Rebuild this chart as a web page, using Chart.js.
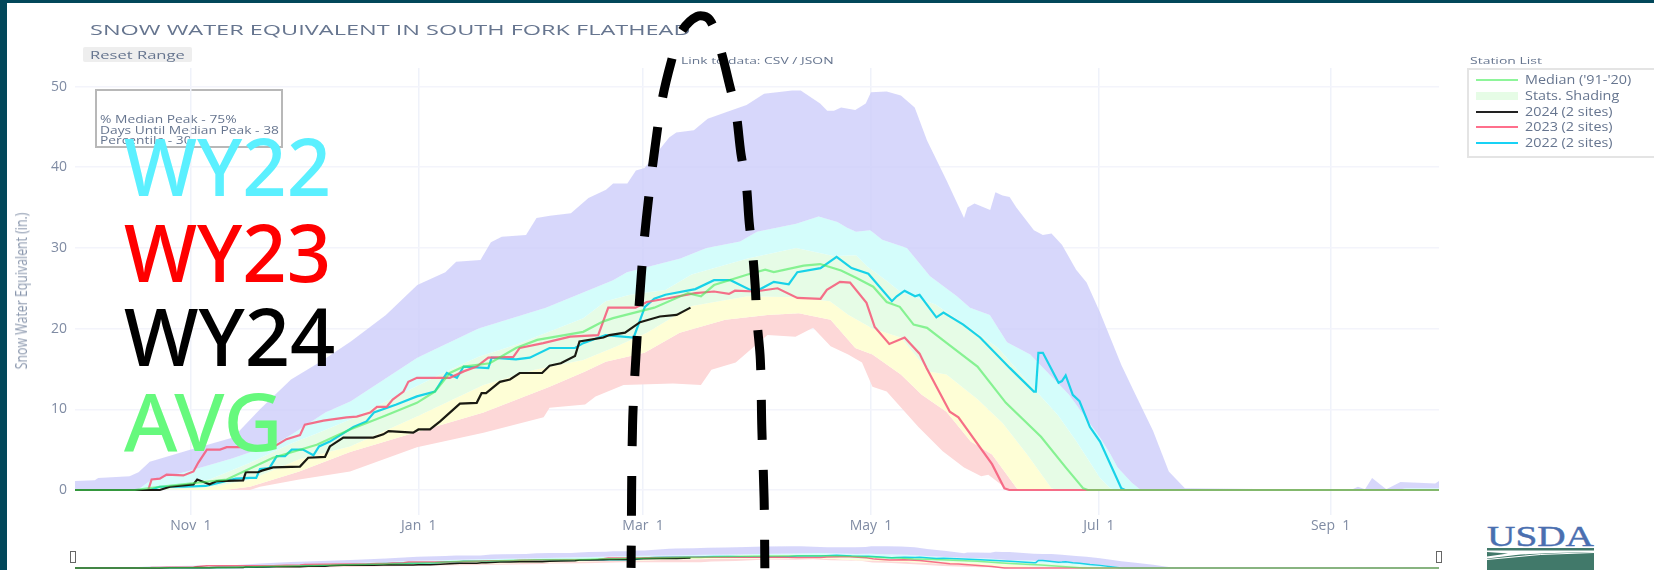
<!DOCTYPE html>
<html>
<head>
<meta charset="utf-8">
<title>Snow Water Equivalent</title>
<script src="https://cdn.jsdelivr.net/npm/chart.js@4"></script>
<style>
  html, body { margin: 0; padding: 0; background: #fff; }
  #page { position: relative; width: 1654px; height: 570px; overflow: hidden; font-family: "Open Sans", sans-serif; color: #66758f; }
  #page div { position: absolute; white-space: nowrap; }
  canvas { position: absolute; left: 0; }
  #mainChart { top: 0; z-index: 2; }
  #sliderChart { top: 540px; z-index: 1; }
  .frameTop { left: 0; top: 0; width: 1654px; height: 3px; background: #02475a; z-index: 5; }
  .frameLeft { left: 0; top: 0; width: 7px; height: 570px; background: #02475a; z-index: 5; }
  .small { transform-origin: left center; filter: blur(0.3px); }
  .big { left: 124px; font-family: "Noto Sans", sans-serif; font-weight: 500; font-size: 80px; line-height: 80px; z-index: 4; transform-origin: left center; transform: scaleX(0.97); }
  .swatch { left: 1476px; width: 42px; }
  .legendText { left: 1525px; font-size: 12.5px; line-height: 14px; transform-origin: left center; transform: scaleX(1.15); filter: blur(0.3px); }
  .handle { top: 551px; width: 4px; height: 10px; background: #fff; border: 1.5px solid #666; z-index: 3; }
</style>
</head>
<body>
<div id="page">
  <div class="frameTop"></div>
  <div class="frameLeft"></div>

  <div class="small" style="left:90px;top:20px;font-size:14.5px;line-height:20px;transform:scaleX(1.62)">SNOW WATER EQUIVALENT IN SOUTH FORK FLATHEAD</div>
  <div style="left:83px;top:47px;width:109px;height:15px;background:#eeeeee;border-radius:2px"></div>
  <div class="small" style="left:90px;top:47px;font-size:11.5px;line-height:15px;transform:scaleX(1.44)">Reset Range</div>
  <div class="small" style="left:681px;top:54px;font-size:9.5px;line-height:14px;transform:scaleX(1.46)">Link to data: CSV / JSON</div>

  <div style="left:95px;top:89px;width:184px;height:55px;border:2px solid #b8b8b8"></div>
  <div class="small" style="left:100px;top:112px;font-size:10px;line-height:14px;transform:scaleX(1.38)">% Median Peak - 75%</div>
  <div class="small" style="left:100px;top:122.5px;font-size:10px;line-height:14px;transform:scaleX(1.38)">Days Until Median Peak - 38</div>
  <div class="small" style="left:100px;top:133px;font-size:10px;line-height:14px;transform:scaleX(1.38)">Percentile - 30</div>

  <div class="small" style="left:21px;top:291px;font-size:16px;line-height:16px;color:#8a97ad;transform-origin:center center;transform:translate(-50%,-50%) rotate(-90deg) scaleX(0.77)">Snow Water Equivalent (in.)</div>

  <div class="small" style="left:1470px;top:54px;font-size:9.5px;line-height:14px;transform:scaleX(1.47)">Station List</div>
  <div style="left:1467px;top:68px;width:190px;height:86px;border:2px solid #e4e4e4"></div>
  <div class="swatch" style="top:79px;height:2px;background:#8ef59a"></div>
  <div class="swatch" style="top:92px;height:8px;background:#e6fce6"></div>
  <div class="swatch" style="top:110.5px;height:2px;background:#222222"></div>
  <div class="swatch" style="top:126px;height:2px;background:#ff6f8c"></div>
  <div class="swatch" style="top:141.5px;height:2px;background:#18d2f5"></div>
  <div class="legendText" style="top:73px">Median ('91-'20)</div>
  <div class="legendText" style="top:89px">Stats. Shading</div>
  <div class="legendText" style="top:104.5px">2024 (2 sites)</div>
  <div class="legendText" style="top:120px">2023 (2 sites)</div>
  <div class="legendText" style="top:135.5px">2022 (2 sites)</div>

  <div class="big" style="top:125px;color:#5bf0ff">WY22</div>
  <div class="big" style="top:211px;color:#ff0000">WY23</div>
  <div class="big" style="top:295px;color:#000000;transform:scaleX(0.99)">WY24</div>
  <div class="big" style="top:380px;color:#66f97d;transform:scaleX(1.02)">AVG</div>

  <div class="handle" style="left:70px"></div>
  <div class="handle" style="left:1436px"></div>

  <svg style="position:absolute;left:1480px;top:522px;z-index:1" width="125" height="48">
    <text x="7" y="24" font-family="Liberation Serif" font-size="29" fill="#4a6fb0" stroke="#4a6fb0" stroke-width="0.4" textLength="107" lengthAdjust="spacingAndGlyphs">USDA</text>
    <rect x="7" y="26" width="107" height="22" fill="#41796a"></rect>
    <path d="M7 28.5 L114 28.5 L114 30 Q60 31 36 33 L7 36.5 L7 34.5 L28 31.5 L7 30 Z" fill="#fff"></path>
    <path d="M7 37.5 Q60 31 114 30.5" fill="none" stroke="#fff" stroke-width="1"></path>
  </svg>

  <canvas id="sliderChart" width="1654" height="30"></canvas>
  <canvas id="mainChart" width="1654" height="570"></canvas>
</div>

<script>
// x axis is days since Oct 1 (water year), y axis is inches of SWE
var xTickDays = [31, 92, 152, 213, 274, 336];
var xTickLabels = ["Nov  1", "Jan  1", "Mar  1", "May  1", "Jul  1", "Sep  1"];
var yTickValues = [0, 10, 20, 30, 40, 50];

// Stats shading, from top edge to bottom edge
var maxDays = [0, 5.3, 6.2, 14.6, 17, 20, 30.8, 42.3, 49.5, 57.8, 66, 73.8, 83.2, 91.6, 99.1, 102, 108.5, 111.3, 114.2, 120.7, 123.5, 127.1, 132.7, 137.4, 142.1, 144, 147.8, 150.1, 152.4, 159, 160.9, 165.6, 169.3, 174, 179.7, 184.4, 191.9, 194.2, 199.4, 201.3, 203.1, 205, 208.8, 211.6, 213, 217.2, 221, 224.7, 228, 233.2, 237.9, 238.8, 240.7, 244.9, 246.3, 248.2, 250.1, 251.9, 256.6, 259, 261.3, 264.1, 267.9, 270.7, 274.3, 280, 283.8, 288.5, 292.7, 297, 341.4, 343.3, 345.2, 347.1, 350.9, 354.7, 364, 365];
var maxVals = [1.1, 1.2, 1.5, 1.7, 2.2, 3.5, 5, 6.5, 10, 13.7, 16, 18.4, 21.7, 25.4, 27, 28.3, 28.5, 30.7, 31.4, 31.6, 33.7, 34, 34.3, 36.2, 37.2, 38, 38, 39.6, 39.9, 43.7, 44.3, 44.6, 46, 46.8, 47.7, 49.1, 49.5, 49.5, 47.9, 47, 47, 47.4, 47.1, 47.9, 49.3, 49.4, 48.9, 47.4, 43.3, 38.4, 33.7, 35, 35.5, 34.7, 36.9, 36.5, 36.3, 35, 32.2, 31.6, 31.8, 30.4, 27.3, 25.7, 22, 15.5, 11.8, 7.3, 2.3, 0.2, 0, 0.4, 0.1, 1.5, 0.1, 1, 0.8, 1.1];

var p90Days = [0, 17, 20, 30, 42, 54, 58.4, 67, 73.8, 91.6, 108, 126, 144, 147.7, 162, 169, 178, 182.5, 193, 199, 204, 206.6, 209, 212.8, 216, 222.6, 228.8, 236, 239.5, 244.8, 249.4, 255.6, 266, 274.3, 277, 279, 282.8, 285.2, 354, 356, 365];
var p90Vals = [0, 0.1, 1.1, 2.3, 3.9, 5.8, 7, 9.6, 11, 16.4, 20, 22.6, 26, 27, 28.7, 30, 30.8, 32, 33, 33.9, 33.2, 32.5, 32, 32.2, 31, 30, 26.5, 24, 22.6, 21.7, 18.3, 16.8, 11.8, 6.5, 4.5, 2.8, 0.9, 0, 0, 0.2, 0.2];

var p70Days = [0, 16, 25, 36, 47, 58, 64.7, 74.4, 82.5, 100.3, 108, 118, 136, 142, 148.5, 158, 165, 180, 193, 203, 209, 212, 217, 221, 230.3, 239.7, 247, 255.7, 263, 268, 274.3, 277, 279, 365];
var p70Vals = [0, 0, 0.5, 1.3, 3.4, 5.8, 7, 8.9, 10.8, 14.9, 16.5, 18, 21.3, 23.4, 24.2, 24.8, 26.7, 28.7, 30, 29, 29.1, 27.7, 26, 24.5, 23, 20, 17.6, 13, 9.3, 6, 1.5, 0.2, 0, 0];

var p30Days = [0, 25, 38, 47, 60, 73.6, 91.5, 109.3, 123, 136, 145, 153, 165, 180, 192.8, 202, 207, 213.4, 221, 228.5, 233.2, 241.6, 248.2, 254.8, 261.3, 263, 365];
var p30Vals = [0, 0, 0.5, 1.3, 3.8, 5.4, 9.1, 13, 14.9, 16.1, 17.8, 19.5, 22.8, 24, 23.9, 23.4, 21.7, 20, 18.9, 14.7, 14.3, 11.2, 8.3, 4.4, 0.2, 0, 0];

var p10Days = [0, 40, 46.8, 60, 73.6, 91.5, 109.3, 127, 136.5, 142, 152.4, 161.8, 174, 185.3, 193.7, 202.2, 208.8, 213.4, 221, 226.6, 233.2, 239.7, 245.4, 252, 253, 365];
var p10Vals = [0, 0, 0.4, 2.3, 4.7, 7.2, 9.6, 12.8, 14.7, 15.9, 17, 19.5, 21.1, 21.7, 21.9, 21.1, 17.6, 16.8, 14.3, 11.8, 9.7, 6, 4.4, 0.2, 0, 0];

var minDays = [0, 46.8, 49.5, 60, 73.6, 91.5, 109.3, 125.4, 127, 136.5, 139.3, 146.8, 160, 167.5, 170.3, 176.8, 185.3, 192.8, 197.5, 202.2, 206.9, 210.6, 213.4, 217.2, 225.7, 232.2, 237.9, 242.5, 244.4, 249.1, 250.5, 365];
var minVals = [0, 0, 0.4, 1.3, 2.3, 5.3, 7.1, 9, 10.2, 10.6, 11.6, 13, 13.2, 13, 14.9, 15.8, 19.2, 19, 20.1, 17.8, 16.8, 15.8, 12.8, 12.2, 7.8, 4.8, 2.8, 1.7, 1.9, 0.2, 0, 0];

// Median ('91-'20)
var medianDays = [0, 16, 22.7, 40.6, 53, 64.7, 73.6, 82.5, 91.5, 96.3, 100.3, 104, 111, 118, 123.7, 136, 141.4, 144, 155, 164, 167.5, 171, 180, 184.7, 187, 195, 199.4, 205, 209, 213.6, 217.2, 220.7, 224.4, 228, 233.3, 241.5, 249.1, 258.5, 265.1, 269.8, 271, 365];
var medianVals = [0, 0, 0.4, 1.3, 4, 5.6, 7.5, 9.1, 10.8, 12.2, 14.5, 15.3, 15.7, 17.6, 18.6, 19.6, 20.9, 21.3, 22.6, 24.4, 24, 25.4, 26.7, 27.3, 27, 27.8, 28, 27.2, 26.3, 25.2, 23.3, 22.7, 20.5, 20.1, 18.2, 15.3, 10.8, 6.6, 2.8, 0.2, 0, 0];

// 2024 (2 sites)
var wy24Days = [0, 22.7, 25.4, 31.7, 32.7, 36, 38, 45, 45.7, 49, 50, 53, 60.2, 62.4, 66.9, 68.2, 71.8, 79.8, 82.5, 83.9, 90.5, 91.9, 95, 97.7, 103, 107.5, 108.8, 110, 113.7, 116.4, 119, 125, 127, 130, 133.8, 135, 141.4, 143, 147.2, 151.2, 156.5, 161, 164.7];
var wy24Vals = [0, 0, 0.4, 0.7, 1.3, 0.7, 1.1, 1.2, 2.2, 2.2, 2.4, 2.8, 2.9, 4, 4.1, 5.4, 6.5, 6.5, 6.9, 7.3, 7.1, 7.5, 7.5, 8.5, 10.7, 10.8, 12, 12, 13.4, 13.7, 14.5, 14.5, 15.4, 15.7, 16.6, 18.4, 18.9, 19.2, 19.5, 20.8, 21.5, 21.7, 22.6];

// 2023 (2 sites)
var wy23Days = [0, 19.6, 20.5, 22.7, 24.5, 29, 31.7, 33, 35.3, 38.8, 40.6, 53, 56.6, 60.2, 61.5, 66.5, 72.7, 75.4, 79, 80.8, 83.4, 85, 87.9, 89.2, 91.5, 97.7, 100.3, 104, 107.5, 110.6, 117.3, 119, 125.3, 132.5, 140, 142.7, 150, 153, 158, 166, 171, 175, 176.6, 182, 188, 193.3, 199.5, 201.2, 204.7, 207.4, 211.8, 214, 217.9, 222, 226, 227.9, 234.1, 236.4, 245.4, 248.7, 250, 365];
var wy23Vals = [0, 0, 1.3, 1.4, 1.9, 1.8, 2.3, 3.4, 5, 5, 5.3, 5.3, 6.3, 6.8, 8.1, 8.6, 9, 9.1, 9.6, 10.3, 10.3, 11.2, 12.2, 13.4, 13.9, 13.9, 13.9, 14.7, 15.3, 16.4, 16.5, 17.6, 18.2, 19, 19.2, 22.6, 22.6, 23.3, 23.7, 24.4, 24.6, 24.3, 24.7, 24.6, 25, 23.8, 23.7, 24.8, 25.8, 25.7, 23.2, 20.2, 18.1, 18.9, 16.9, 15.1, 9.7, 9, 3.2, 0.2, 0, 0];

// 2022 (2 sites)
var wy22Days = [0, 20, 22.7, 29, 35, 43, 46.8, 48.5, 49.5, 52, 54, 56.2, 58, 61, 63.8, 65.3, 68.2, 74.5, 78, 80, 86, 91.5, 96.3, 99.5, 102.2, 104, 110.6, 111.5, 118, 121.7, 127, 133.8, 136, 142, 149.5, 152.5, 155, 158, 166, 171, 175.4, 180.7, 183.4, 187, 191, 193.3, 199.5, 203.8, 207.8, 212.3, 218.6, 219.9, 222, 224.8, 226, 230.5, 232.4, 237.7, 242.2, 250.2, 256.6, 257.1, 257.8, 259, 263.2, 264.1, 265.1, 267, 268.8, 271.6, 274.3, 280, 281, 365];
var wy22Vals = [0, 0, 0.4, 0.4, 0.5, 1.4, 1.5, 1.5, 2.6, 2.7, 4.2, 4.2, 5, 5, 4.3, 5.4, 6, 7.8, 8.5, 9.6, 10.6, 11.6, 12.2, 14.5, 13.9, 15.3, 15.1, 16.4, 16.2, 16.4, 17.6, 17.6, 18.2, 19.2, 18.9, 22.7, 23.7, 24.2, 24.9, 26, 26, 24.8, 24.9, 25.8, 25.5, 27, 27.5, 28.9, 27.5, 26.8, 23.4, 24, 24.7, 24, 24.2, 21.4, 22, 20.5, 18.9, 15.1, 12.2, 12.2, 17, 17, 13.3, 13.5, 14.2, 11.8, 11, 7.8, 6, 0.2, 0, 0];

// the hand drawn dashed arc laid over the chart
var arcDays = [148.8, 149.2, 150.1, 151.5, 152.9, 155.1, 157.1, 159.5, 162, 166.5, 169.8, 172.6, 175.2, 176.9, 178.2, 179.6, 180.4, 181.3, 182, 182.5, 183.4, 183.8, 184.4, 184.6];
var arcVals = [-9.65, 8, 16.5, 26.4, 33.7, 42.1, 48.3, 53, 56.6, 58.7, 58.3, 54.8, 50.1, 46.7, 41.7, 38, 33.2, 29.5, 25.4, 21, 16.1, 7.5, -1, -9.7];

function toPoints(days, vals)
{
  return days.map(function(d, i) { return { x: d, y: vals[i] }; });
}

function bandDataset(days, vals, color)
{
  return { data: toPoints(days, vals), borderWidth: 0, backgroundColor: color, fill: color ? "+1" : false, pointRadius: 0, tension: 0 };
}

function lineDataset(days, vals, color, width)
{
  return { data: toPoints(days, vals), borderColor: color, borderWidth: width, fill: false, pointRadius: 0, tension: 0 };
}

// first dataset is painted last, so the lines go ahead of the bands
function buildDatasets(lineWidth)
{
  return [
    lineDataset(medianDays, medianVals, "rgba(70,235,90,0.6)", lineWidth),
    lineDataset(wy24Days, wy24Vals, "#1a1a12", lineWidth),
    lineDataset(wy23Days, wy23Vals, "rgba(245,95,125,0.9)", lineWidth),
    lineDataset(wy22Days, wy22Vals, "#18d2e8", lineWidth),
    bandDataset(maxDays, maxVals, "rgba(205,205,250,0.8)"),
    bandDataset(p90Days, p90Vals, "#d4fdfb"),
    bandDataset(p70Days, p70Vals, "#e6fce6"),
    bandDataset(p30Days, p30Vals, "#fefed6"),
    bandDataset(p10Days, p10Vals, "#fdd8d8"),
    bandDataset(minDays, minVals, null)
  ];
}

var mainSets = buildDatasets(2.2);
mainSets.unshift({
  data: toPoints(arcDays, arcVals), borderColor: "#000000", borderWidth: 9, borderDash: [40, 30], borderDashOffset: 18,
  fill: false, pointRadius: 0, tension: 0.35, clip: false
});

new Chart(document.getElementById("mainChart"),
{
  type: "line",
  data: { datasets: mainSets },
  options:
  {
    responsive: false,
    animation: false,
    layout: { padding: { top: 68, right: 215, left: 0, bottom: 0 } },
    plugins: { legend: { display: false }, tooltip: { enabled: false } },
    scales:
    {
      x:
      {
        type: "linear",
        min: 0,
        max: 365,
        afterBuildTicks: function(scale) { scale.ticks = xTickDays.map(function(d) { return { value: d }; }); },
        afterFit: function(scale) { scale.height = 55; },
        grid: { color: "#eff2fa", lineWidth: 1.5, drawTicks: false },
        border: { display: false },
        ticks:
        {
          autoSkip: false,
          maxRotation: 0,
          padding: 3,
          color: "#7f8ba3",
          font: { family: "Open Sans", size: 14 },
          callback: function(value) { return xTickLabels[xTickDays.indexOf(value)]; }
        }
      },
      y:
      {
        type: "linear",
        min: -3.1,
        max: 52.3,
        afterBuildTicks: function(scale) { scale.ticks = yTickValues.map(function(v) { return { value: v }; }); },
        afterFit: function(scale) { scale.width = 75; },
        grid: { color: "#f3f4fb", lineWidth: 1.5, drawTicks: false },
        border: { display: false },
        ticks:
        {
          padding: 8,
          color: "#7f8ba3",
          font: { family: "Open Sans", size: 14 }
        }
      }
    }
  }
});

// range slider strip at the bottom, same data in miniature
new Chart(document.getElementById("sliderChart"),
{
  type: "line",
  data: { datasets: buildDatasets(1.5) },
  options:
  {
    responsive: false,
    animation: false,
    layout: { padding: { left: 75, right: 215, top: 0, bottom: 0 } },
    plugins: { legend: { display: false }, tooltip: { enabled: false } },
    scales:
    {
      x: { type: "linear", min: 0, max: 365, display: false },
      y: { type: "linear", min: -4.5, max: 63.6, display: false }
    }
  }
});
</script>
</body>
</html>
